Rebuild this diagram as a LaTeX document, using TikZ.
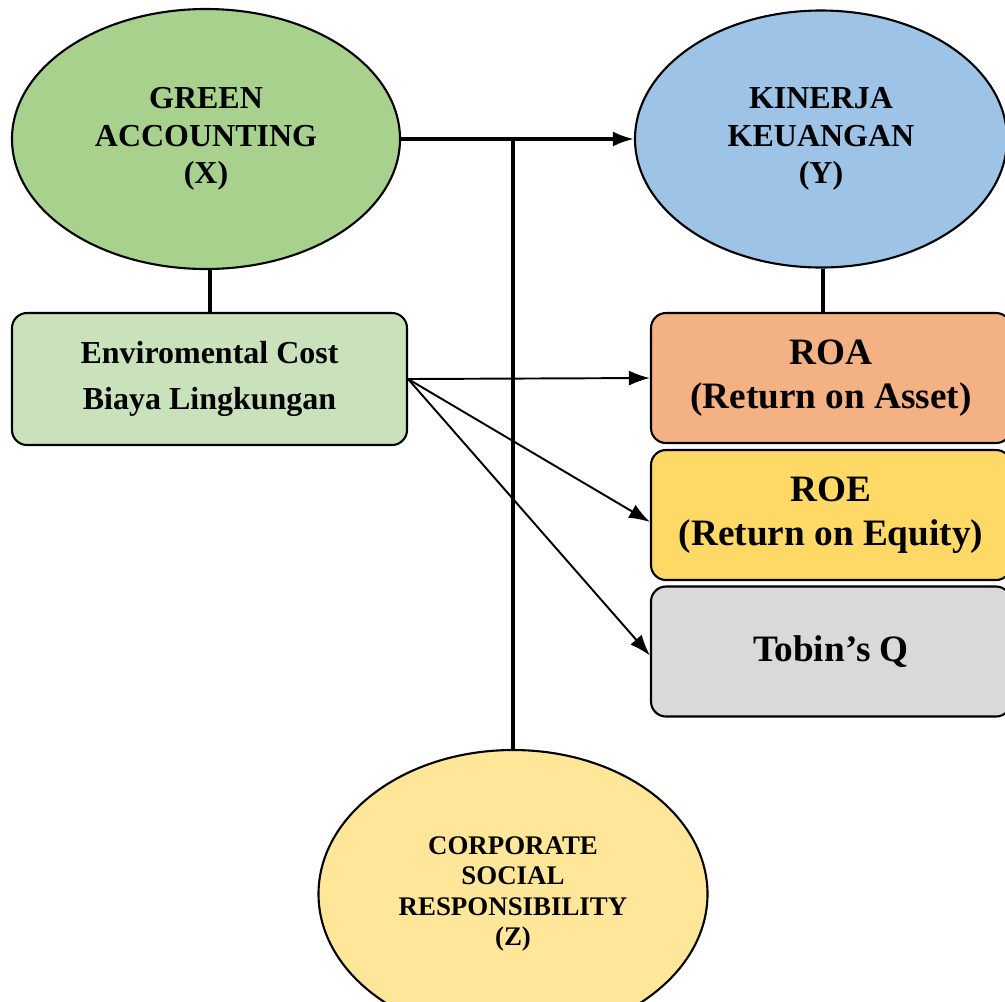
\documentclass[tikz,border=0pt]{standalone}
\usepackage{fontspec}
\setmainfont{Liberation Serif}
\usepackage{tikz}
\usetikzlibrary{shapes.geometric, arrows.meta, positioning, calc}
\definecolor{varx}{HTML}{A9D18E}
\definecolor{vary}{HTML}{9DC3E6}
\definecolor{varz}{HTML}{FFE699}
\definecolor{envfill}{HTML}{C9E2BB}
\definecolor{roafill}{HTML}{F4B183}
\definecolor{roefill}{HTML}{FFD966}
\definecolor{tobfill}{HTML}{D9D9D9}
\tikzset{
    var_ellipse/.style={ellipse, draw, line width=1.2pt, align=center, inner sep=0pt, font=\bfseries\fontsize{18.2}{21.3}\selectfont},
    block_ind/.style={rectangle, draw, line width=1.2pt, rounded corners=0.3cm, align=center, minimum width=7.2cm, minimum height=2.6cm, font=\bfseries\fontsize{21.2}{25}\selectfont},
    arrow/.style={-{Latex[length=0.42cm, width=0.3cm]}, line width=1.1pt}
}
\begin{document}
\begin{tikzpicture}
            \useasboundingbox (0, 0) rectangle (20.1, -20.02);
            \clip (0, 0) rectangle (20.1, -20.02);

            % Variables
            \node (green) [var_ellipse, fill=varx, minimum width=7.76cm, minimum height=5.2cm] at (4.12, -2.78) {GREEN\\ACCOUNTING\\(X)};
            \node (kinerja) [var_ellipse, fill=vary, minimum width=7.44cm, minimum height=5.14cm] at (16.42, -2.78) {KINERJA\\KEUANGAN\\(Y)};
            \node (csr) [var_ellipse, fill=varz, minimum width=7.78cm, minimum height=5.76cm, font=\bfseries\fontsize{15.3}{17.3}\selectfont] at (10.26, -17.88) {CORPORATE\\SOCIAL\\RESPONSIBILITY\\(Z)};

            % Indicators
            \node (envcost) [rectangle, draw, line width=1.2pt, rounded corners=0.3cm, fill=envfill, minimum width=7.9cm, minimum height=2.64cm, align=center, font=\bfseries\fontsize{18.2}{26}\selectfont] at (4.19, -7.58) {Enviromental Cost\\Biaya Lingkungan};
            \node (roa) [block_ind, fill=roafill] at (16.62, -7.56) {ROA\\(Return on Asset)};
            \node (roe) [block_ind, fill=roefill] at (16.62, -10.30) {ROE\\(Return on Equity)};
            \node (tobin) [block_ind, fill=tobfill] at (16.62, -13.03) {Tobin’s Q};

            % Connections
            \draw [line width=2pt] ([xshift=0.08cm]green.south) -- ([xshift=0.08cm]green.south |- envcost.north);
            \draw [line width=2pt] ([xshift=0.04cm]kinerja.south) -- ([xshift=0.04cm]kinerja.south |- roa.north);
            \draw [arrow, line width=1.8pt] (green.east) -- (kinerja.west);
            \coordinate (junc) at (csr.north |- green.east);
            \draw [line width=1.8pt] (csr.north) -- (junc);

            % Indicator arrows
            \draw [arrow] (envcost.east) -- (roa.west);
            \draw [arrow] (envcost.east) -- ([yshift=-0.14cm]roe.west);
            \draw [arrow] (envcost.east) -- ([yshift=-0.08cm]tobin.west);
\end{tikzpicture}
\end{document}
